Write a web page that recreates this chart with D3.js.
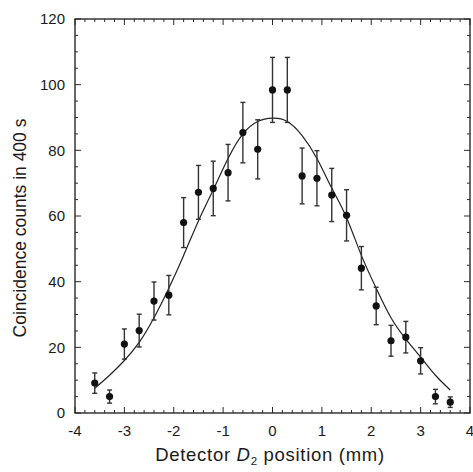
<!DOCTYPE html>
<html><head><meta charset="utf-8">
<script src="https://cdn.jsdelivr.net/npm/d3@7"></script>
<style>
html,body{margin:0;padding:0;background:#fff;}
svg{display:block;}
text{font-family:"Liberation Sans",Arial,Helvetica,sans-serif;fill:#1a1a1a;}
</style></head>
<body>
<script>
// ---- data ----
const positions = [-3.6,-3.3,-3.0,-2.7,-2.4,-2.1,-1.8,-1.5,-1.2,-0.9,-0.6,-0.3,0.0,0.3,0.6,0.9,1.2,1.5,1.8,2.1,2.4,2.7,3.0,3.3,3.6];
const counts    = [9.1,5.0,21.0,25.1,34.1,35.9,58.0,67.2,68.4,73.2,85.4,80.3,98.4,98.4,72.2,71.5,66.4,60.2,44.1,32.6,22.0,23.1,15.9,5.0,3.3];
const errors    = [3.1,2.0,4.6,5.0,5.8,6.0,7.6,8.2,8.3,8.6,9.2,9.0,9.9,9.9,8.5,8.4,8.1,7.8,6.6,5.7,4.7,4.8,4.0,2.2,1.6];
const fitX = [-3.6,-3.3,-3.0,-2.7,-2.4,-2.1,-1.8,-1.5,-1.2,-0.9,-0.6,-0.3,0.0,0.3,0.6,0.9,1.2,1.5,1.8,2.1,2.4,2.7,3.0,3.3,3.6];
const fitY = [7.5,11.5,16.0,21.5,29.0,38.0,48.0,58.5,68.0,77.5,85.0,88.8,89.8,88.8,84.5,77.5,68.5,59.5,48.0,38.0,29.0,22.5,17.0,11.5,7.0];
const xTicks = [-4,-3,-2,-1,0,1,2,3,4];
const yTicks = [0,20,40,60,80,100,120];

const W = 473, H = 472;
const m = {left:75, right:3, top:19, bottom:59};
const svg = d3.select("body").append("svg").attr("width",W).attr("height",H);

const x = d3.scaleLinear().domain([-4,4]).range([m.left, W-m.right]);
const y = d3.scaleLinear().domain([0,120]).range([H-m.bottom, m.top]);

const g = svg.append("g");
const axisColor = "#2a2a2a";

// minor / major ticks (inward) on all four sides
const xMinor = d3.range(-4, 4.001, 0.2);
const yMinor = d3.range(0, 120.001, 5);
function isMajorX(v){return Math.abs(v-Math.round(v))<1e-6;}
function isMajorY(v){return Math.abs(v/20-Math.round(v/20))<1e-6;}

const tickG = g.append("g").attr("stroke",axisColor).attr("stroke-width",1);
xMinor.forEach(v=>{
  const L = isMajorX(v)?6:3;
  const px = x(v);
  tickG.append("line").attr("x1",px).attr("x2",px).attr("y1",y(0)).attr("y2",y(0)-L);
  tickG.append("line").attr("x1",px).attr("x2",px).attr("y1",y(120)).attr("y2",y(120)+L);
});
yMinor.forEach(v=>{
  const L = isMajorY(v)?6:3;
  const py = y(v);
  tickG.append("line").attr("x1",x(-4)).attr("x2",x(-4)+L).attr("y1",py).attr("y2",py);
  tickG.append("line").attr("x1",x(4)).attr("x2",x(4)-L).attr("y1",py).attr("y2",py);
});

// frame
g.append("rect").attr("x",x(-4)).attr("y",y(120)).attr("width",x(4)-x(-4)).attr("height",y(0)-y(120))
  .attr("fill","none").attr("stroke",axisColor).attr("stroke-width",1.4);

// tick labels
g.selectAll(".xl").data(xTicks).join("text")
  .attr("x",d=>x(d)).attr("y",y(0)+23).attr("text-anchor","middle")
  .attr("font-size",15).text(d=>String(d));
g.selectAll(".yl").data(yTicks).join("text")
  .attr("x",x(-4)-10).attr("y",d=>y(d)).attr("dy","0.36em").attr("text-anchor","end")
  .attr("font-size",15).text(d=>String(d));

// axis titles
const xt = g.append("text").attr("x",270).attr("y",461).attr("text-anchor","middle")
  .attr("font-size",18.5).attr("letter-spacing",0.7);
xt.append("tspan").text("Detector ");
xt.append("tspan").attr("font-style","italic").text("D");
xt.append("tspan").attr("font-size",11.5).attr("dy",4).text("2");
xt.append("tspan").attr("dy",-4).text(" position (mm)");

g.append("text").attr("transform","translate(26,228) rotate(-90)").attr("text-anchor","middle")
  .attr("font-size",17.5).text("Coincidence counts in 400 s");

// fit curve
const line = d3.line().x((d,i)=>x(fitX[i])).y(d=>y(d)).curve(d3.curveNatural);
g.append("path").datum(fitY).attr("d",line).attr("fill","none").attr("stroke","#222").attr("stroke-width",1.2);

// error bars
const eb = g.append("g").attr("stroke","#333").attr("stroke-width",1.4);
positions.forEach((p,i)=>{
  const px = x(p), top = y(counts[i]+errors[i]), bot = y(counts[i]-errors[i]);
  eb.append("line").attr("x1",px).attr("x2",px).attr("y1",top).attr("y2",bot);
  eb.append("line").attr("x1",px-2.5).attr("x2",px+2.5).attr("y1",top).attr("y2",top);
  eb.append("line").attr("x1",px-2.5).attr("x2",px+2.5).attr("y1",bot).attr("y2",bot);
});

// points
g.selectAll("circle.pt").data(counts).join("circle")
  .attr("cx",(d,i)=>x(positions[i])).attr("cy",d=>y(d)).attr("r",3.6).attr("fill","#111");
</script>
</body></html>
